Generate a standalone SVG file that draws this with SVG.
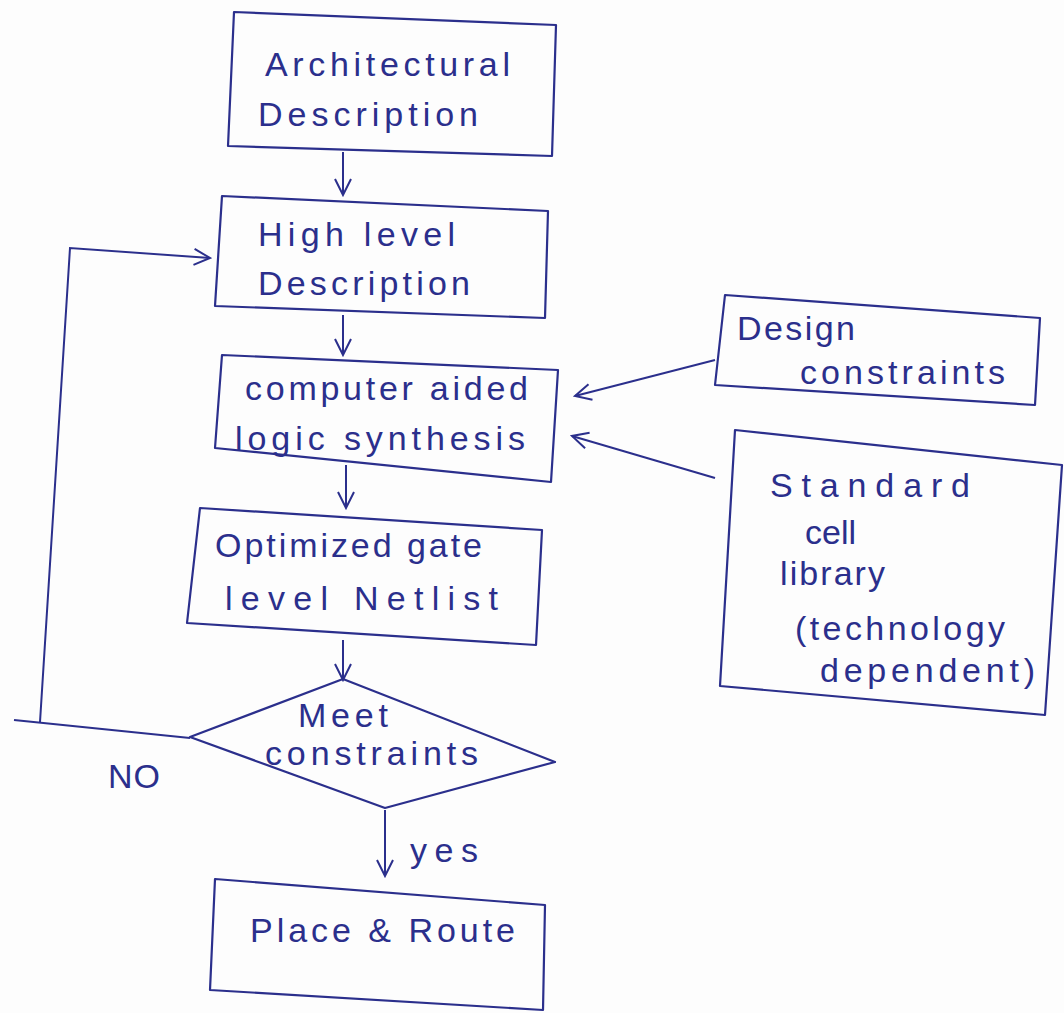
<svg xmlns="http://www.w3.org/2000/svg" width="1064" height="1013" viewBox="0 0 1064 1013">
<style>
.box{fill:none;stroke:#2b2f8c;stroke-width:2.2;stroke-linejoin:round}
.ln{fill:none;stroke:#2b2f8c;stroke-width:2}
.t{font-family:"Liberation Sans",Arial,sans-serif;font-size:34px;fill:#2b2f8c}
</style>
<defs>
<marker id="ah" viewBox="0 0 20 20" refX="18" refY="10" markerWidth="20" markerHeight="20" markerUnits="userSpaceOnUse" orient="auto">
<path d="M2,2 L18,10 L2,18" fill="none" stroke="#2b2f8c" stroke-width="2"/>
</marker>
</defs>
<rect width="1064" height="1013" fill="#fdfdfd"/>
<g id="connectors">
<line class="ln" x1="343" y1="152" x2="343" y2="195" marker-end="url(#ah)"/>
<line class="ln" x1="343" y1="315" x2="343" y2="355" marker-end="url(#ah)"/>
<line class="ln" x1="346" y1="465" x2="346" y2="508" marker-end="url(#ah)"/>
<line class="ln" x1="343" y1="640" x2="343" y2="680" marker-end="url(#ah)"/>
<line class="ln" x1="385" y1="810" x2="385" y2="876" marker-end="url(#ah)"/>
<line class="ln" x1="715" y1="360" x2="575" y2="396" marker-end="url(#ah)"/>
<line class="ln" x1="715" y1="478" x2="572" y2="436" marker-end="url(#ah)"/>
<polyline class="ln" points="190,738 14,720"/>
<polyline class="ln" points="40,722 70,248 210,258" marker-end="url(#ah)"/>
<text class="t" x="108" y="788" font-size="27" textLength="52" lengthAdjust="spacing">NO</text>
<text class="t" x="410" y="862" font-size="30" textLength="68" lengthAdjust="spacing">yes</text>
</g>
<g id="architectural">
<polygon class="box" points="234,12 556,25 552,156 228,146"/>
<text class="t" x="265" y="76" textLength="245" lengthAdjust="spacing">Architectural</text>
<text class="t" x="258" y="126" textLength="220" lengthAdjust="spacing">Description</text>
</g>
<g id="highlevel">
<polygon class="box" points="222,196 548,211 545,318 215,306"/>
<text class="t" x="258" y="246" textLength="197" lengthAdjust="spacing">High level</text>
<text class="t" x="258" y="295" textLength="212" lengthAdjust="spacing">Description</text>
</g>
<g id="synthesis">
<polygon class="box" points="222,355 558,370 551,482 215,448"/>
<text class="t" x="245" y="400" textLength="283" lengthAdjust="spacing">computer aided</text>
<text class="t" x="235" y="450" textLength="290" lengthAdjust="spacing">logic synthesis</text>
</g>
<g id="netlist">
<polygon class="box" points="200,508 542,530 536,645 187,623"/>
<text class="t" x="215" y="557" textLength="267" lengthAdjust="spacing">Optimized gate</text>
<text class="t" x="225" y="610" textLength="273" lengthAdjust="spacing">level Netlist</text>
</g>
<g id="decision">
<polygon class="box" points="343,679 555,762 385,808 190,737"/>
<text class="t" x="298" y="727" font-size="30" textLength="90" lengthAdjust="spacing">Meet</text>
<text class="t" x="265" y="765" font-size="30" textLength="213" lengthAdjust="spacing">constraints</text>
</g>
<g id="placeroute">
<polygon class="box" points="215,879 545,905 543,1010 210,990"/>
<text class="t" x="250" y="942" textLength="265" lengthAdjust="spacing">Place &amp; Route</text>
</g>
<g id="designconstraints">
<polygon class="box" points="725,295 1040,318 1035,405 715,385"/>
<text class="t" x="737" y="340" textLength="118" lengthAdjust="spacing">Design</text>
<text class="t" x="800" y="384" textLength="205" lengthAdjust="spacing">constraints</text>
</g>
<g id="stdcell">
<polygon class="box" points="735,430 1062,465 1045,715 720,686"/>
<text class="t" x="770" y="497" textLength="200" lengthAdjust="spacing">Standard</text>
<text class="t" x="805" y="544">cell</text>
<text class="t" x="780" y="585" textLength="105" lengthAdjust="spacing">library</text>
<text class="t" x="795" y="640" textLength="210" lengthAdjust="spacing">(technology</text>
<text class="t" x="820" y="682" textLength="215" lengthAdjust="spacing">dependent)</text>
</g>
</svg>
